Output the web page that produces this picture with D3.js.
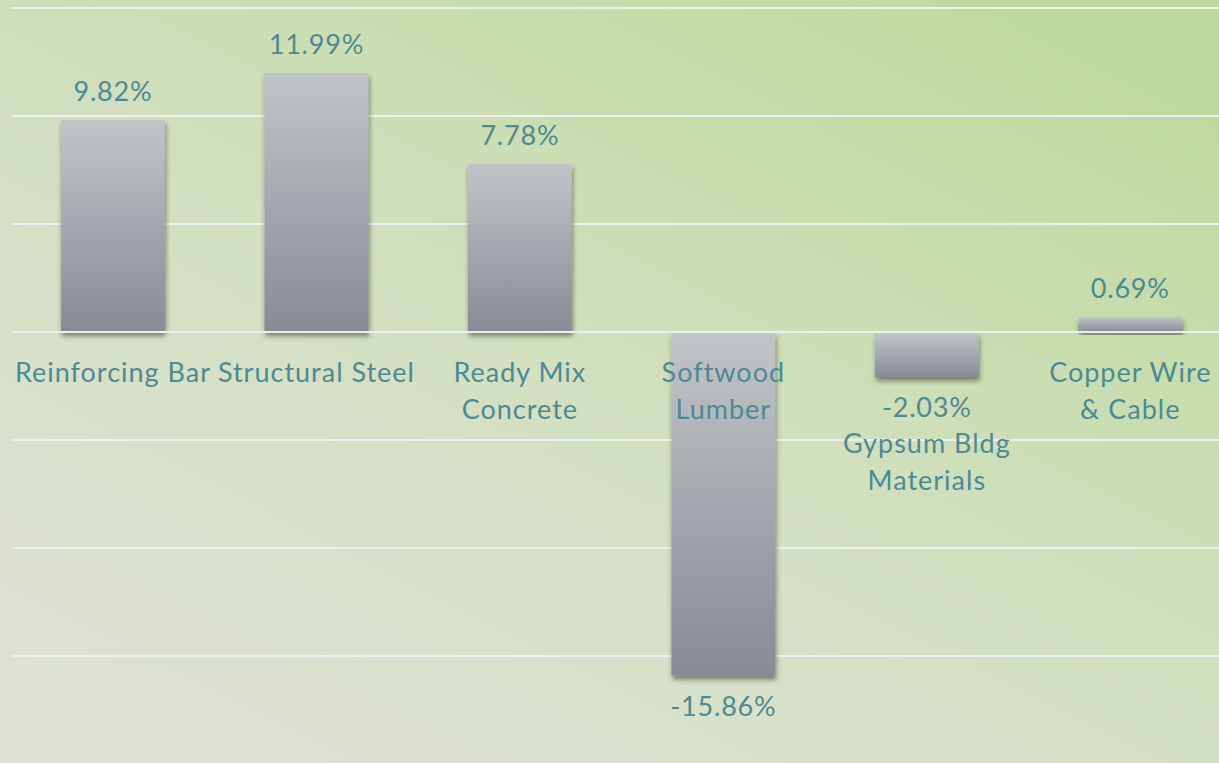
<!DOCTYPE html>
<meta charset="utf-8">
<head>
<style>
  html, body { margin: 0; padding: 0; overflow: hidden; }
  text { font-family: "Lato", "Open Sans", sans-serif; fill: #4b8a93; }
</style>
</head>
<script src="https://d3js.org/d3.v7.min.js"></script>
<body>
  <div id="my_dataviz"></div>
</body>
<script>

    // chart data
    var categories = ["Reinforcing Bar", "Structural Steel", "Ready Mix Concrete", "Softwood Lumber", "Gypsum Bldg Materials", "Copper Wire & Cable"];
    var labelLines = [["Reinforcing Bar"], ["Structural Steel"], ["Ready Mix", "Concrete"], ["Softwood", "Lumber"], ["Gypsum Bldg", "Materials"], ["Copper Wire", "& Cable"]];
    var values = [9.82, 11.99, 7.78, -15.86, -2.03, 0.69];
    var gridTicks = [-15, -10, -5, 0, 5, 10, 15];

    var width = 1219, height = 763;

    var svg = d3.select("#my_dataviz")
      .append("svg")
        .attr("width", width)
        .attr("height", height);

    var defs = svg.append("defs");

    // background gradient (green top-right to grey bottom-left)
    var bg = defs.append("linearGradient").attr("id", "bg")
        .attr("x1", "10%").attr("y1", "100%").attr("x2", "90%").attr("y2", "0%");
    bg.append("stop").attr("offset", "0%").attr("stop-color", "#dfe1d7");
    bg.append("stop").attr("offset", "50%").attr("stop-color", "#d2dfbf");
    bg.append("stop").attr("offset", "100%").attr("stop-color", "#bcd99b");

    var barGrad = defs.append("linearGradient").attr("id", "barGrad")
        .attr("x1", "0%").attr("y1", "0%").attr("x2", "0%").attr("y2", "100%");
    barGrad.append("stop").attr("offset", "0%").attr("stop-color", "#c1c4c7");
    barGrad.append("stop").attr("offset", "100%").attr("stop-color", "#878b94");

    var shadow = defs.append("filter").attr("id", "shadow")
        .attr("x", "-20%").attr("y", "-20%").attr("width", "140%").attr("height", "140%");
    shadow.append("feDropShadow")
        .attr("dx", 1).attr("dy", 4).attr("stdDeviation", 2.5)
        .attr("flood-color", "#2a2f25").attr("flood-opacity", 0.55);

    svg.append("rect").attr("width", width).attr("height", height).attr("fill", "url(#bg)");

    var x = d3.scaleBand()
      .domain(categories)
      .range([11.25, 1232])
      .paddingInner(0.49)
      .paddingOuter(0.245);

    var y = d3.scaleLinear()
      .domain([-20, 15])
      .range([764, 8]);

    // gridlines
    svg.append("g")
      .selectAll("line")
      .data(gridTicks)
      .enter()
      .append("line")
        .attr("x1", 12)
        .attr("x2", width)
        .attr("y1", function(d) { return y(d); })
        .attr("y2", function(d) { return y(d); })
        .style("stroke", "#eaf0ee")
        .style("stroke-width", 2);

    // bars
    svg.append("g")
      .selectAll("rect")
      .data(values)
      .enter()
      .append("rect")
        .attr("x", function(d, i) { return x(categories[i]); })
        .attr("y", function(d) { return d >= 0 ? y(d) : y(0) + 1; })
        .attr("width", x.bandwidth())
        .attr("height", function(d) { return Math.abs(y(d) - y(0)); })
        .attr("fill", "url(#barGrad)")
        .attr("filter", "url(#shadow)");

    // zero line over bars
    svg.append("line")
      .attr("x1", 12).attr("x2", width)
      .attr("y1", y(0)).attr("y2", y(0))
      .style("stroke", "#eaf0ee").style("stroke-width", 2);

    // value labels
    svg.append("g")
      .selectAll("text")
      .data(values)
      .enter()
      .append("text")
        .attr("x", function(d, i) { return x(categories[i]) + x.bandwidth() / 2; })
        .attr("y", function(d) { return d >= 0 ? y(d) - 19 : y(d) + 41; })
        .style("text-anchor", "middle")
        .style("font-size", "27px")
        .style("letter-spacing", "0.8px")
        .text(function(d) { return d.toFixed(2) + "%"; });

    // category labels (pushed down when a negative value label sits in their place)
    var lineH = 36.5;
    labelLines.forEach(function(lines, i) {
      var v = values[i];
      var y0 = y(0) + 50;
      if (v < 0 && y(v) + 41 < y0 + lineH * 2) y0 = y(v) + 41 + lineH;
      var t = svg.append("text")
        .attr("x", x(categories[i]) + x.bandwidth() / 2)
        .attr("y", y0)
        .style("text-anchor", "middle")
        .style("font-size", "27px")
        .style("letter-spacing", "1px");
      lines.forEach(function(l, j) {
        t.append("tspan")
          .attr("x", x(categories[i]) + x.bandwidth() / 2)
          .attr("dy", j == 0 ? 0 : lineH)
          .text(l);
      });
    });

</script>
